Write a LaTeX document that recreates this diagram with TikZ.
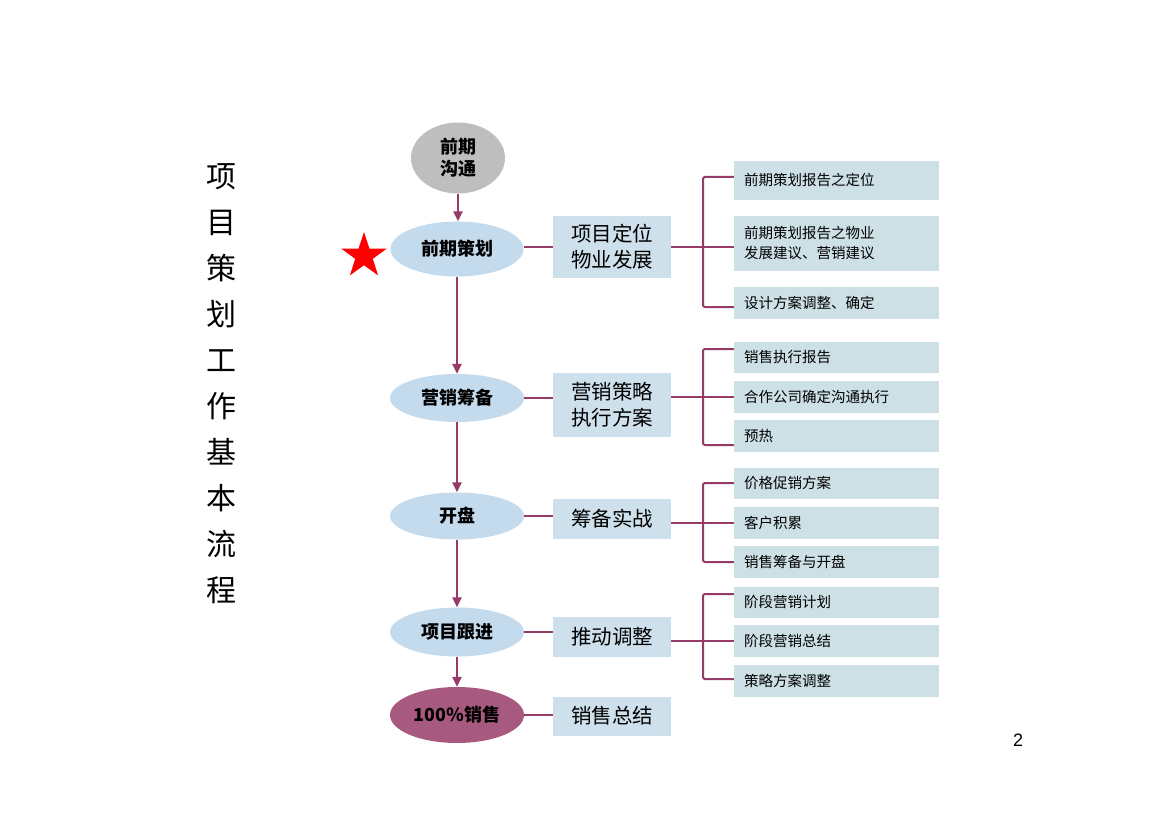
\documentclass[tikz,border=0pt]{standalone}
\usepackage{fontspec}
\setmainfont{Liberation Sans}
\newfontfamily\cjk{Noto Sans CJK SC}
\usetikzlibrary{shapes.geometric,arrows.meta}
\definecolor{plum}{HTML}{963A68}
\definecolor{ellblue}{HTML}{C4DBEE}
\definecolor{midbox}{HTML}{CEE0EC}
\definecolor{rbox}{HTML}{CCE0E6}
\definecolor{ellgray}{HTML}{BEBEBE}
\definecolor{ellplum}{HTML}{A8597F}
\begin{document}
\begin{tikzpicture}[x=1pt,y=-1pt,
  ell/.style={ellipse,inner sep=0pt,minimum width=134pt,font=\cjk\bfseries\fontsize{18}{22}\selectfont,align=center},
  midb/.style={rectangle,fill=midbox,inner sep=0pt,minimum width=118pt,font=\cjk\fontsize{20.5}{26}\selectfont,align=center},
  rb/.style={rectangle,fill=rbox,inner xsep=10pt,inner ysep=0pt,text width=185pt,minimum width=205pt,font=\cjk\fontsize{14.5}{20}\selectfont,align=left},
  conn/.style={draw=plum,line width=2.4pt},
  arr/.style={conn,-{Triangle[length=10pt,width=9pt]}},
  brk/.style={draw=plum,line width=2pt,rounded corners=2pt}]
\useasboundingbox (0,0) rectangle (1169,826);
\fill[white] (0,0) rectangle (1169,826);

% title
\node[font=\cjk\fontsize{30}{46}\selectfont,align=center] (title) at (221,384) {项\\目\\策\\划\\工\\作\\基\\本\\流\\程};

% main column
\node[ell,fill=ellgray,minimum width=94pt,minimum height=71pt] (e0) at (458,158) {前期\\沟通};
\node[ell,fill=ellblue,minimum width=133pt,minimum height=55pt] (e1) at (457,249) {前期策划};
\node[ell,fill=ellblue,minimum height=48pt] (e2) at (457,398) {营销筹备};
\node[ell,fill=ellblue,minimum height=47pt] (e3) at (457,516) {开盘};
\node[ell,fill=ellblue,minimum height=49pt] (e4) at (457,632) {项目跟进};
\node[ell,fill=ellplum,minimum height=56pt] (e5) at (457,715) {100\%销售};

\node[star,star points=5,star point ratio=2.6,fill=red,minimum size=48pt,inner sep=0pt] (st) at (364,256) {};

\draw[arr] (e0.south) -- (e0.south |- e1.north);
\draw[arr] (e1) -- (e2);
\draw[arr] (e2) -- (e3);
\draw[arr] (e3) -- (e4);
\draw[arr] (e4) -- (e5);

% middle boxes
\node[midb,minimum height=62pt] (b1) at (612,247) {项目定位\\物业发展};
\node[midb,minimum height=64pt] (b2) at (612,405) {营销策略\\执行方案};
\node[midb,minimum height=40pt] (b3) at (612,519) {筹备实战};
\node[midb,minimum height=40pt] (b4) at (612,637) {推动调整};
\node[midb,minimum height=39pt] (b5) at (612,716) {销售总结};

\draw[conn] (e1.east |- b1.west) -- (b1.west);
\draw[conn] (e2.east) -- (e2.east -| b2.west);
\draw[conn] (e3.east) -- (e3.east -| b3.west);
\draw[conn] (e4.east) -- (e4.east -| b4.west);
\draw[conn] (e5.east) -- (e5.east -| b5.west);

% right boxes
\node[rb,minimum height=39pt] (r11) at (836.5,180.5) {前期策划报告之定位};
\node[rb,minimum height=55pt] (r12) at (836.5,243.5) {前期策划报告之物业\\发展建议、营销建议};
\node[rb,minimum height=32pt] (r13) at (836.5,303) {设计方案调整、确定};

\node[rb,minimum height=31pt] (r21) at (836.5,357.5) {销售执行报告};
\node[rb,minimum height=32pt] (r22) at (836.5,397) {合作公司确定沟通执行};
\node[rb,minimum height=32pt] (r23) at (836.5,436) {预热};

\node[rb,minimum height=31pt] (r31) at (836.5,483.5) {价格促销方案};
\node[rb,minimum height=32pt] (r32) at (836.5,523) {客户积累};
\node[rb,minimum height=32pt] (r33) at (836.5,562) {销售筹备与开盘};

\node[rb,minimum height=31pt] (r41) at (836.5,602) {阶段营销计划};
\node[rb,minimum height=32pt] (r42) at (836.5,641) {阶段营销总结};
\node[rb,minimum height=32pt] (r43) at (836.5,681) {策略方案调整};

% brackets
\coordinate (t1) at (703,177); \coordinate (m1) at (703,247); \coordinate (u1) at (703,307);
\coordinate (t2) at (703,349); \coordinate (m2) at (703,397); \coordinate (u2) at (703,445);
\coordinate (t3) at (703,483); \coordinate (m3) at (703,523); \coordinate (u3) at (703,562);
\coordinate (t4) at (703,594); \coordinate (m4) at (703,641); \coordinate (u4) at (703,679);

\draw[brk] (r11.west |- t1) -- (t1) -- (u1) -- (r13.west |- u1);
\draw[brk] (b1.east |- m1) -- (r12.west |- m1);
\draw[brk] (r21.west |- t2) -- (t2) -- (u2) -- (r23.west |- u2);
\draw[brk] (b2.east |- m2) -- (r22.west |- m2);
\draw[brk] (r31.west |- t3) -- (t3) -- (u3) -- (r33.west |- u3);
\draw[brk] (b3.east |- m3) -- (r32.west |- m3);
\draw[brk] (r41.west |- t4) -- (t4) -- (u4) -- (r43.west |- u4);
\draw[brk] (b4.east |- m4) -- (r42.west |- m4);

\node[font=\fontsize{18}{22}\selectfont] (pg) at (1018,740) {2};
\end{tikzpicture}
\end{document}
